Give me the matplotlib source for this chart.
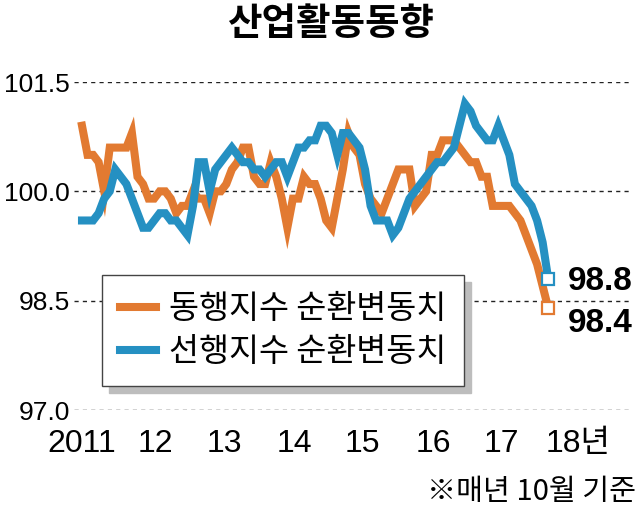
import matplotlib
matplotlib.use("Agg")
import matplotlib.pyplot as plt
from matplotlib.patches import Rectangle

plt.rcParams['font.family'] = ['Liberation Sans', 'Noto Sans CJK KR', 'DejaVu Sans']

# 월별 순환변동치, 2011년 10월 ~ 2018년 10월
coincident = [100.9, 100.5, 100.5, 100.4, 100.0, 100.6, 100.6, 100.6, 100.6, 100.8,
              100.2, 100.1, 99.9, 99.9, 100.0, 100.0, 99.9, 99.7, 99.8, 99.8,
              100.0, 99.9, 99.9, 99.7, 100.0, 100.0, 100.1, 100.3, 100.4, 100.6,
              100.6, 100.2, 100.1, 100.1, 100.4, 100.2, 99.9, 99.5, 99.9, 99.9,
              100.2, 100.1, 100.1, 99.9, 99.6, 99.5, 99.9, 100.3, 100.8, 100.6,
              100.5, 100.1, 99.9, 99.8, 99.7, 99.9, 100.1, 100.3, 100.3, 100.3,
              99.8, 99.9, 100.0, 100.5, 100.5, 100.7, 100.7, 100.7, 100.6, 100.5,
              100.4, 100.4, 100.2, 100.2, 99.8, 99.8, 99.8, 99.8, 99.7, 99.6,
              99.4, 99.2, 99.0, 98.7, 98.4]
leading = [99.6, 99.6, 99.6, 99.7, 99.9, 100.0, 100.3, 100.2, 100.1, 99.9,
           99.7, 99.5, 99.5, 99.6, 99.7, 99.7, 99.6, 99.6, 99.5, 99.4,
           99.8, 100.4, 100.4, 100.0, 100.3, 100.4, 100.5, 100.6, 100.5, 100.4,
           100.4, 100.3, 100.3, 100.2, 100.3, 100.4, 100.4, 100.2, 100.4, 100.6,
           100.6, 100.7, 100.7, 100.9, 100.9, 100.8, 100.5, 100.8, 100.8, 100.7,
           100.6, 100.3, 99.8, 99.6, 99.6, 99.6, 99.4, 99.5, 99.7, 99.9,
           100.0, 100.1, 100.2, 100.3, 100.4, 100.4, 100.5, 100.6, 100.9, 101.2,
           101.1, 100.9, 100.8, 100.7, 100.7, 100.9, 100.7, 100.5, 100.1, 100.0,
           99.9, 99.8, 99.6, 99.3, 98.8]
year_labels = ['2011', '12', '13', '14', '15', '16', '17', '18년']
y_ticks = [97.0, 98.5, 100.0, 101.5]

ORANGE = '#E27A31'
BLUE = '#2590C2'

# where the year labels sit (month index), picked to match the original layout
label_pos = [0, 13.2, 25.6, 38.2, 50.5, 63.3, 75.5, 89.4]

fig = plt.figure(figsize=(6.39, 5.08), dpi=100)
ax = fig.add_axes([74 / 639, 98 / 508, 558 / 639, 328 / 508])
ax.set_xlim(-1.44, 99.1)
ax.set_ylim(97.0, 101.5)

months = list(range(len(coincident)))
ax.plot(months, coincident, color=ORANGE, lw=5.8, solid_joinstyle='miter',
        label='동행지수 순환변동치', zorder=3)
ax.plot(months, leading, color=BLUE, lw=5.8, solid_joinstyle='miter',
        label='선행지수 순환변동치', zorder=3)

# open squares at the last month
ax.plot(months[-1], leading[-1], 's', ms=8, mfc='white', mec=BLUE, mew=1.6, zorder=4)
ax.plot(months[-1], coincident[-1], 's', ms=8, mfc='white', mec=ORANGE, mew=1.6, zorder=4)

ax.annotate(f'{leading[-1]:.1f}', (months[-1], leading[-1]), xytext=(14, -2),
            textcoords='offset points', ha='left', va='center',
            fontsize=24, fontweight='bold')
ax.annotate(f'{coincident[-1]:.1f}', (months[-1], coincident[-1]), xytext=(14, -11),
            textcoords='offset points', ha='left', va='center',
            fontsize=24, fontweight='bold')

ax.set_yticks(y_ticks, [f'{v:.1f}' for v in y_ticks])
ax.set_xticks(label_pos, year_labels)
ax.grid(axis='y', ls=(0, (3, 3)), color='#222222', lw=1.0)
ax.tick_params(axis='y', length=0, labelsize=19, pad=3)
ax.tick_params(axis='x', length=0, labelsize=23, pad=14)
for s in ax.spines.values():
    s.set_visible(False)

leg = ax.legend(loc='upper left', bbox_to_anchor=(102 / 639, 1 - 275 / 508),
                bbox_transform=fig.transFigure,
                prop={'family': 'Noto Sans CJK KR', 'size': 23.5},
                frameon=True, fancybox=False, framealpha=1, edgecolor='#444444',
                borderpad=0.55, handlelength=1.1, handletextpad=0.4,
                labelspacing=0.35, borderaxespad=0)
leg.get_frame().set_linewidth(1.0)
leg.set_zorder(6)

# grey drop shadow behind the legend box
fig.canvas.draw()
bb = leg.get_frame().get_window_extent().transformed(fig.transFigure.inverted())
ax.add_patch(Rectangle((bb.x0 + 7 / 639, bb.y0 - 7 / 508), bb.width, bb.height,
                       transform=fig.transFigure, color='#bdbdbd', zorder=5,
                       clip_on=False))

fig.text(331 / 639, 1 - 23 / 508, '산업활동동향', ha='center', va='center',
         fontsize=27, fontweight='bold', family='Noto Sans CJK KR')
fig.text(636 / 639, 1 - 492 / 508, '※매년 10월 기준', ha='right', va='center',
         fontsize=21, family=['Noto Sans CJK KR', 'DejaVu Sans'])

fig.savefig('out.png', dpi=100)
